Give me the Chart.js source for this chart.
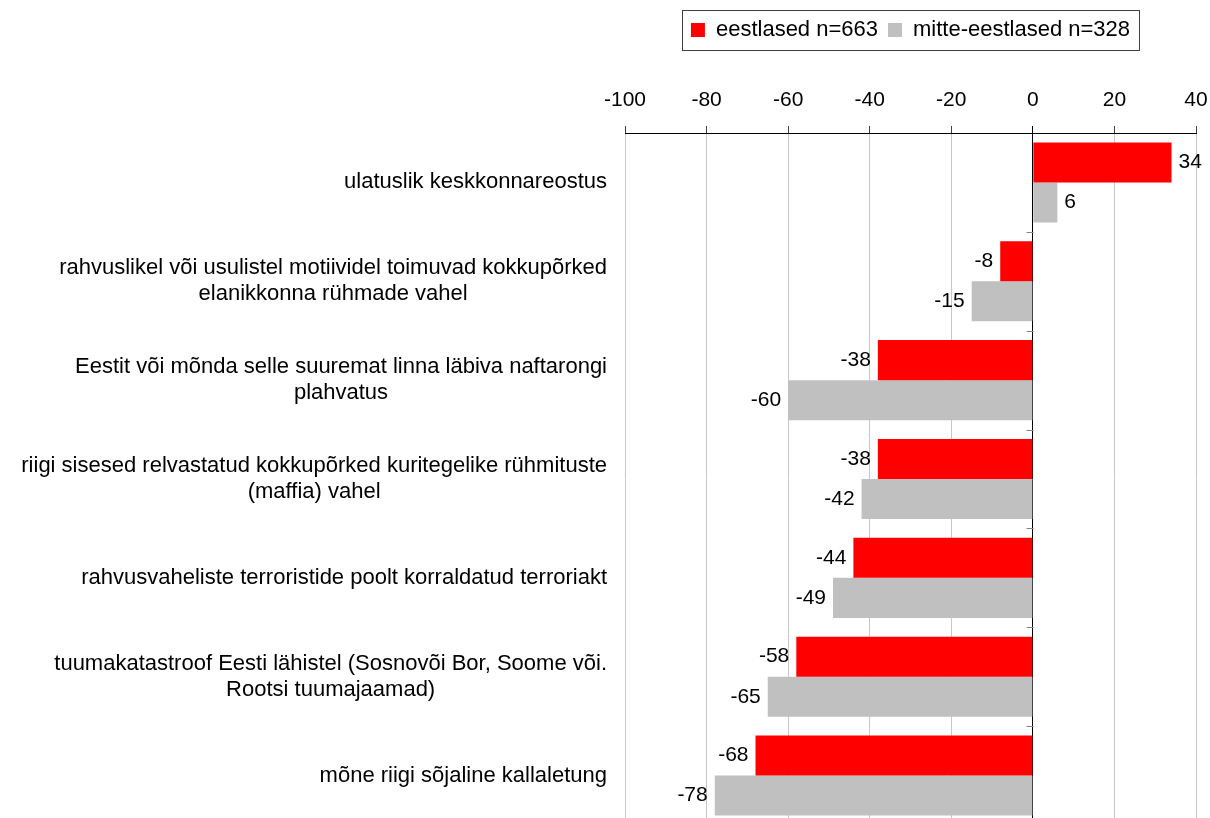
<!DOCTYPE html>
<html>
<head>
<meta charset="utf-8">
<script src="https://cdn.jsdelivr.net/npm/chart.js@4/dist/chart.umd.min.js"></script>
<style>
  html, body { margin: 0; padding: 0; background: #fff; overflow: hidden; }
  canvas { display: block; }
</style>
</head>
<body>
<canvas id="chart" width="1210" height="830"></canvas>
<script>
// data
var categories = [
  'ulatuslik keskkonnareostus',
  ['rahvuslikel või usulistel motiividel toimuvad kokkupõrked', 'elanikkonna rühmade vahel'],
  ['Eestit või mõnda selle suuremat linna läbiva naftarongi', 'plahvatus'],
  ['riigi sisesed relvastatud kokkupõrked kuritegelike rühmituste', '(maffia) vahel'],
  'rahvusvaheliste terroristide poolt korraldatud terroriakt',
  ['tuumakatastroof Eesti lähistel (Sosnovõi Bor, Soome või.', 'Rootsi tuumajaamad)'],
  'mõne riigi sõjaline kallaletung'
];
var seriesNames = ['eestlased n=663', 'mitte-eestlased n=328'];
var eestlased = [34, -8, -38, -38, -44, -58, -68];
var mitteEestlased = [6, -15, -60, -42, -49, -65, -78];
var axisMin = -100, axisMax = 40, axisStep = 20;

var FONT = '"Liberation Sans", Arial, sans-serif';
Chart.defaults.font.family = FONT;
Chart.defaults.font.size = 21;
Chart.defaults.color = '#000';

// value labels at the end of each bar
var valueLabels = {
  id: 'valueLabels',
  afterDatasetsDraw: function(chart) {
    var ctx = chart.ctx;
    ctx.save();
    ctx.font = '21px ' + FONT;
    ctx.fillStyle = '#000';
    ctx.textBaseline = 'middle';
    chart.data.datasets.forEach(function(ds, i) {
      chart.getDatasetMeta(i).data.forEach(function(bar, j) {
        var v = ds.data[j];
        ctx.textAlign = v >= 0 ? 'left' : 'right';
        ctx.fillText(String(v), bar.x + (v >= 0 ? 7 : -7), bar.y);
      });
    });
    ctx.restore();
  }
};

// category labels: block right aligned, lines centred inside the block
var categoryLabels = {
  id: 'categoryLabels',
  afterDraw: function(chart) {
    var ctx = chart.ctx;
    var y = chart.scales.y;
    var right = chart.chartArea.left - 18;
    var lh = 26;
    ctx.save();
    ctx.font = '22px ' + FONT;
    ctx.fillStyle = '#000';
    ctx.textBaseline = 'middle';
    ctx.textAlign = 'center';
    categories.forEach(function(lab, i) {
      var lines = Array.isArray(lab) ? lab : [lab];
      var w = Math.max.apply(null, lines.map(function(t) { return ctx.measureText(t).width; }));
      var cx = right - w / 2;
      var cy = y.getPixelForValue(i);
      lines.forEach(function(t, k) {
        ctx.fillText(t, cx, cy + (k - (lines.length - 1) / 2) * lh);
      });
    });
    ctx.restore();
  }
};

// small category ticks on the zero line + frame around the legend
var extras = {
  id: 'extras',
  afterDraw: function(chart) {
    var ctx = chart.ctx;
    var x0 = Math.round(chart.scales.x.getPixelForValue(0)) + 0.5;
    var y = chart.scales.y;
    var step = (y.bottom - y.top) / categories.length;
    ctx.save();
    ctx.strokeStyle = '#808080';
    ctx.lineWidth = 1;
    ctx.beginPath();
    for (var k = 1; k <= categories.length; k++) {
      var yy = Math.round(y.top + k * step) + 0.5;
      ctx.moveTo(x0 - 7, yy);
      ctx.lineTo(x0, yy);
    }
    ctx.stroke();

    var hb = chart.legend.legendHitBoxes;
    if (hb && hb.length) {
      var first = hb[0], last = hb[hb.length - 1];
      var cy = first.top + first.height / 2;
      var l = Math.round(first.left - 9) + 0.5;
      var r = Math.round(last.left + last.width + 9) + 0.5;
      ctx.strokeStyle = '#404040';
      ctx.strokeRect(l, Math.round(cy - 20) + 0.5, r - l, 40);
    }
    ctx.restore();
  }
};

new Chart(document.getElementById('chart'), {
  type: 'bar',
  data: {
    labels: categories,
    datasets: [
      { label: seriesNames[0], data: eestlased, backgroundColor: '#ff0000' },
      { label: seriesNames[1], data: mitteEestlased, backgroundColor: '#c0c0c0' }
    ]
  },
  options: {
    indexAxis: 'y',
    responsive: false,
    animation: false,
    layout: { padding: { top: 9, right: 0, bottom: 5, left: 0 } },
    datasets: { bar: { categoryPercentage: 0.81, barPercentage: 1.0 } },
    plugins: {
      tooltip: { enabled: false },
      legend: {
        position: 'top',
        fullSize: false,
        align: 'center',
        labels: { boxWidth: 14, boxHeight: 14, padding: 10, font: { size: 22 } }
      }
    },
    scales: {
      x: {
        position: 'top',
        min: axisMin,
        max: axisMax,
        ticks: { stepSize: axisStep, padding: 13, font: { size: 21 } },
        grid: {
          color: function(c) { return c.tick && c.tick.value === 0 ? '#000' : '#c8c8c8'; },
          tickColor: function(c) { return c.tick && c.tick.value === 0 ? '#000' : '#404040'; },
          tickLength: 7
        },
        border: { color: '#000' },
        afterFit: function(s) { s.height = 82; s.paddingLeft = 0; s.paddingRight = 14; }
      },
      y: {
        ticks: { display: false },
        grid: { display: false, drawTicks: false },
        border: { display: false },
        afterFit: function(s) { s.width = 625; }
      }
    }
  },
  plugins: [valueLabels, categoryLabels, extras]
});
</script>
</body>
</html>
